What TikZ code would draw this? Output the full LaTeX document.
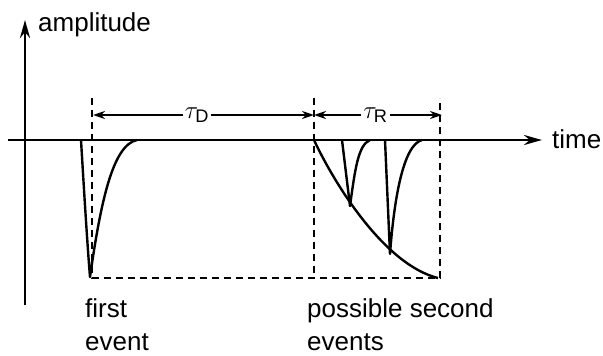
\documentclass[tikz,border=0pt]{standalone}
\usepackage{amsmath}
\usepackage{fontspec}
\setmainfont{Liberation Sans}
\usepackage{tikz}
\usetikzlibrary{arrows.meta, positioning}

\begin{document}
\begin{tikzpicture}[x=1pt, y=-1pt,
  axis/.style={line width=2.8pt, -{Stealth[length=18pt, width=10pt]}},
  pulse/.style={line width=2.4pt, line join=round},
  guide/.style={line width=2.6pt, dash pattern=on 7pt off 5pt},
  dim/.style={line width=2pt, {Stealth[length=12pt, width=8pt]}-{Stealth[length=12pt, width=8pt]}},
  txt/.style={font=\fontsize{26}{33}\selectfont, inner sep=0pt, align=left},
  lab/.style={font=\fontsize{26}{30}\selectfont, fill=white, inner sep=2pt}
]
\useasboundingbox (0,0) rectangle (603,356);

% axes
\coordinate (xs) at (8,140);
\coordinate (xe) at (542,140);
\coordinate (ys) at (25,305);
\coordinate (ye) at (25,20);
\draw[axis] (xs) -- (xe);
\draw[axis] (ys) -- (ye);
\node[txt, anchor=base west] (amp)  at (38,31)  {amplitude};
\node[txt, anchor=base west] (time) at (552,148) {time};

% dashed guides
\coordinate (d1t) at (92,98);   \coordinate (d1b) at (92,278);
\coordinate (d2t) at (314,98);  \coordinate (d2b) at (314,278);
\coordinate (d3t) at (440,98);  \coordinate (d3b) at (440,278);
\draw[guide] (d1t) -- (d1b) -- (d3b) -- (d3t);
\draw[guide] (d2t) -- (d2b);

% dead time and recovery time
\coordinate (a1) at (93,115);
\coordinate (a2) at (314,115);
\coordinate (a3) at (442,115);
\draw[dim] (a1) -- node[lab, pos=0.47] (tauD) {$\tau_{\text{D}}$} (a2);
\draw[dim] (a2) -- node[lab, pos=0.48] (tauR) {$\tau_{\text{R}}$} (a3);

% first event
\coordinate (p0) at (81,140);
\coordinate (p0b) at (90,277);
\draw[pulse] (p0) .. controls (84,190) and (87,240) .. (p0b)
  .. controls (101,200) and (113,145) .. (137,140);

% envelope of second events
\coordinate (e0) at (314,140);
\coordinate (e1) at (438,278);
\draw[pulse] (e0) .. controls (335,185) and (385,265) .. (e1);

% possible second events
\coordinate (q1) at (342,140);
\coordinate (q1b) at (350,206);
\draw[pulse] (q1) -- (q1b) .. controls (355,170) and (358,145) .. (370,140);
\coordinate (q2) at (385,140);
\coordinate (q2b) at (390,254);
\draw[pulse] (q2) -- (q2b) .. controls (394,200) and (403,145) .. (422,140);

\node[txt, anchor=north west] (first)  at (85,298)  {first\\event};
\node[txt, anchor=north west] (second) at (307,298) {possible second\\events};
\end{tikzpicture}
\end{document}
